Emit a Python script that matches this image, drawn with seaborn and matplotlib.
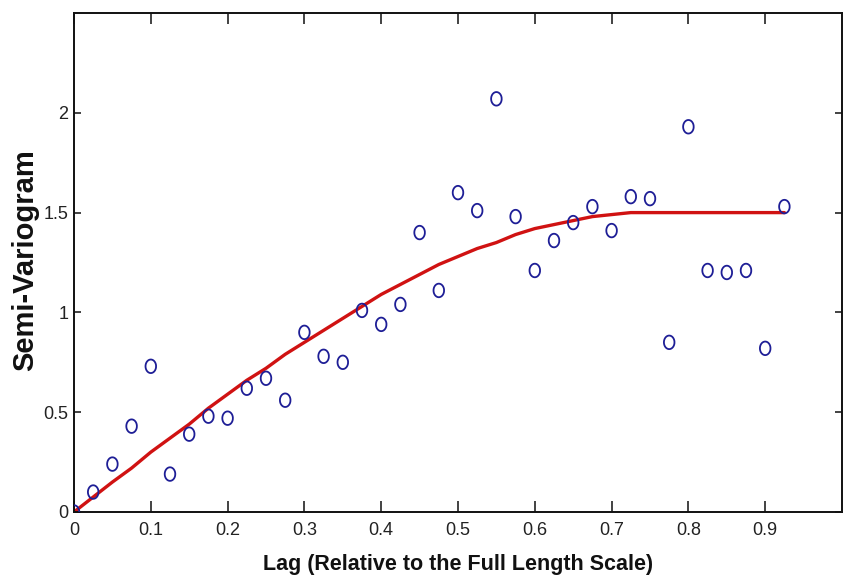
import numpy as np
import pandas as pd
import seaborn as sns
from matplotlib import pyplot as plt
from matplotlib.path import Path

# experimental semi-variogram (lag relative to full length scale)
lag = [0.0, 0.025, 0.05, 0.075, 0.1, 0.125, 0.15, 0.175, 0.2, 0.225,
       0.25, 0.275, 0.3, 0.325, 0.35, 0.375, 0.4, 0.425, 0.45, 0.475,
       0.5, 0.525, 0.55, 0.575, 0.6, 0.625, 0.65, 0.675, 0.7, 0.725,
       0.75, 0.775, 0.8, 0.825, 0.85, 0.875, 0.9, 0.925]
semivar = [0.0, 0.10, 0.24, 0.43, 0.73, 0.19, 0.39, 0.48, 0.47, 0.62,
           0.67, 0.56, 0.90, 0.78, 0.75, 1.01, 0.94, 1.04, 1.40, 1.11,
           1.60, 1.51, 2.07, 1.48, 1.21, 1.36, 1.45, 1.53, 1.41, 1.58,
           1.57, 0.85, 1.93, 1.21, 1.20, 1.21, 0.82, 1.53]
# fitted model curve read at the same lags
model = [0.0, 0.075, 0.15, 0.22, 0.30, 0.37, 0.44, 0.52, 0.59, 0.66,
         0.72, 0.79, 0.85, 0.91, 0.97, 1.03, 1.09, 1.14, 1.19, 1.24,
         1.28, 1.32, 1.35, 1.39, 1.42, 1.44, 1.46, 1.48, 1.49, 1.50,
         1.50, 1.50, 1.50, 1.50, 1.50, 1.50, 1.50, 1.50]

x_ticks = [0, 0.1, 0.2, 0.3, 0.4, 0.5, 0.6, 0.7, 0.8, 0.9]
x_tick_labels = ["0", "0.1", "0.2", "0.3", "0.4", "0.5", "0.6", "0.7", "0.8", "0.9"]
y_ticks = [0, 0.5, 1, 1.5, 2]
y_tick_labels = ["0", "0.5", "1", "1.5", "2"]

df = pd.DataFrame({"lag": lag, "semivar": semivar, "model": model})

sns.set_style("ticks")
plt.rcParams["font.family"] = ["Liberation Sans", "DejaVu Sans"]

fig = plt.figure(figsize=(8.43, 5.8), dpi=100)
ax = fig.add_axes([74 / 843, 68 / 580, 768 / 843, 499 / 580])

# slightly tall open circle, like the stretched original
t = np.linspace(0, 2 * np.pi, 60)
ellipse = Path(np.column_stack([np.cos(t) * 0.78, np.sin(t)]))

sns.lineplot(data=df, x="lag", y="model", ax=ax, color="#d01212",
             linewidth=2.4, sort=False, estimator=None, zorder=2)
sns.scatterplot(data=df, x="lag", y="semivar", ax=ax, marker=ellipse, s=95,
                facecolor="none", edgecolor="#1e1e96", linewidth=1.3, zorder=3)

ax.set_xlim(0, 1)
ax.set_ylim(0, 2.5)
ax.set_xticks(x_ticks)
ax.set_xticklabels(x_tick_labels)
ax.set_yticks(y_ticks)
ax.set_yticklabels(y_tick_labels)
ax.tick_params(axis="x", direction="in", length=8, width=1.2, pad=7,
               labelsize=13, top=True, colors="#222222")
ax.tick_params(axis="y", direction="in", length=5, width=1.2, pad=4,
               labelsize=13, right=True, colors="#222222")
for sp in ax.spines.values():
    sp.set_visible(True)
    sp.set_linewidth(1.4)
    sp.set_color("#111111")

ax.set_xlabel("Lag (Relative to the Full Length Scale)", fontsize=15.5,
              fontweight="bold", color="#111111")
ax.set_ylabel("Semi-Variogram", fontsize=21, fontweight="bold", color="#111111")
ax.xaxis.set_label_coords(0.5, -0.084)
ax.yaxis.set_label_coords(-0.045, 0.505)

fig.savefig("out.png", dpi=100)
